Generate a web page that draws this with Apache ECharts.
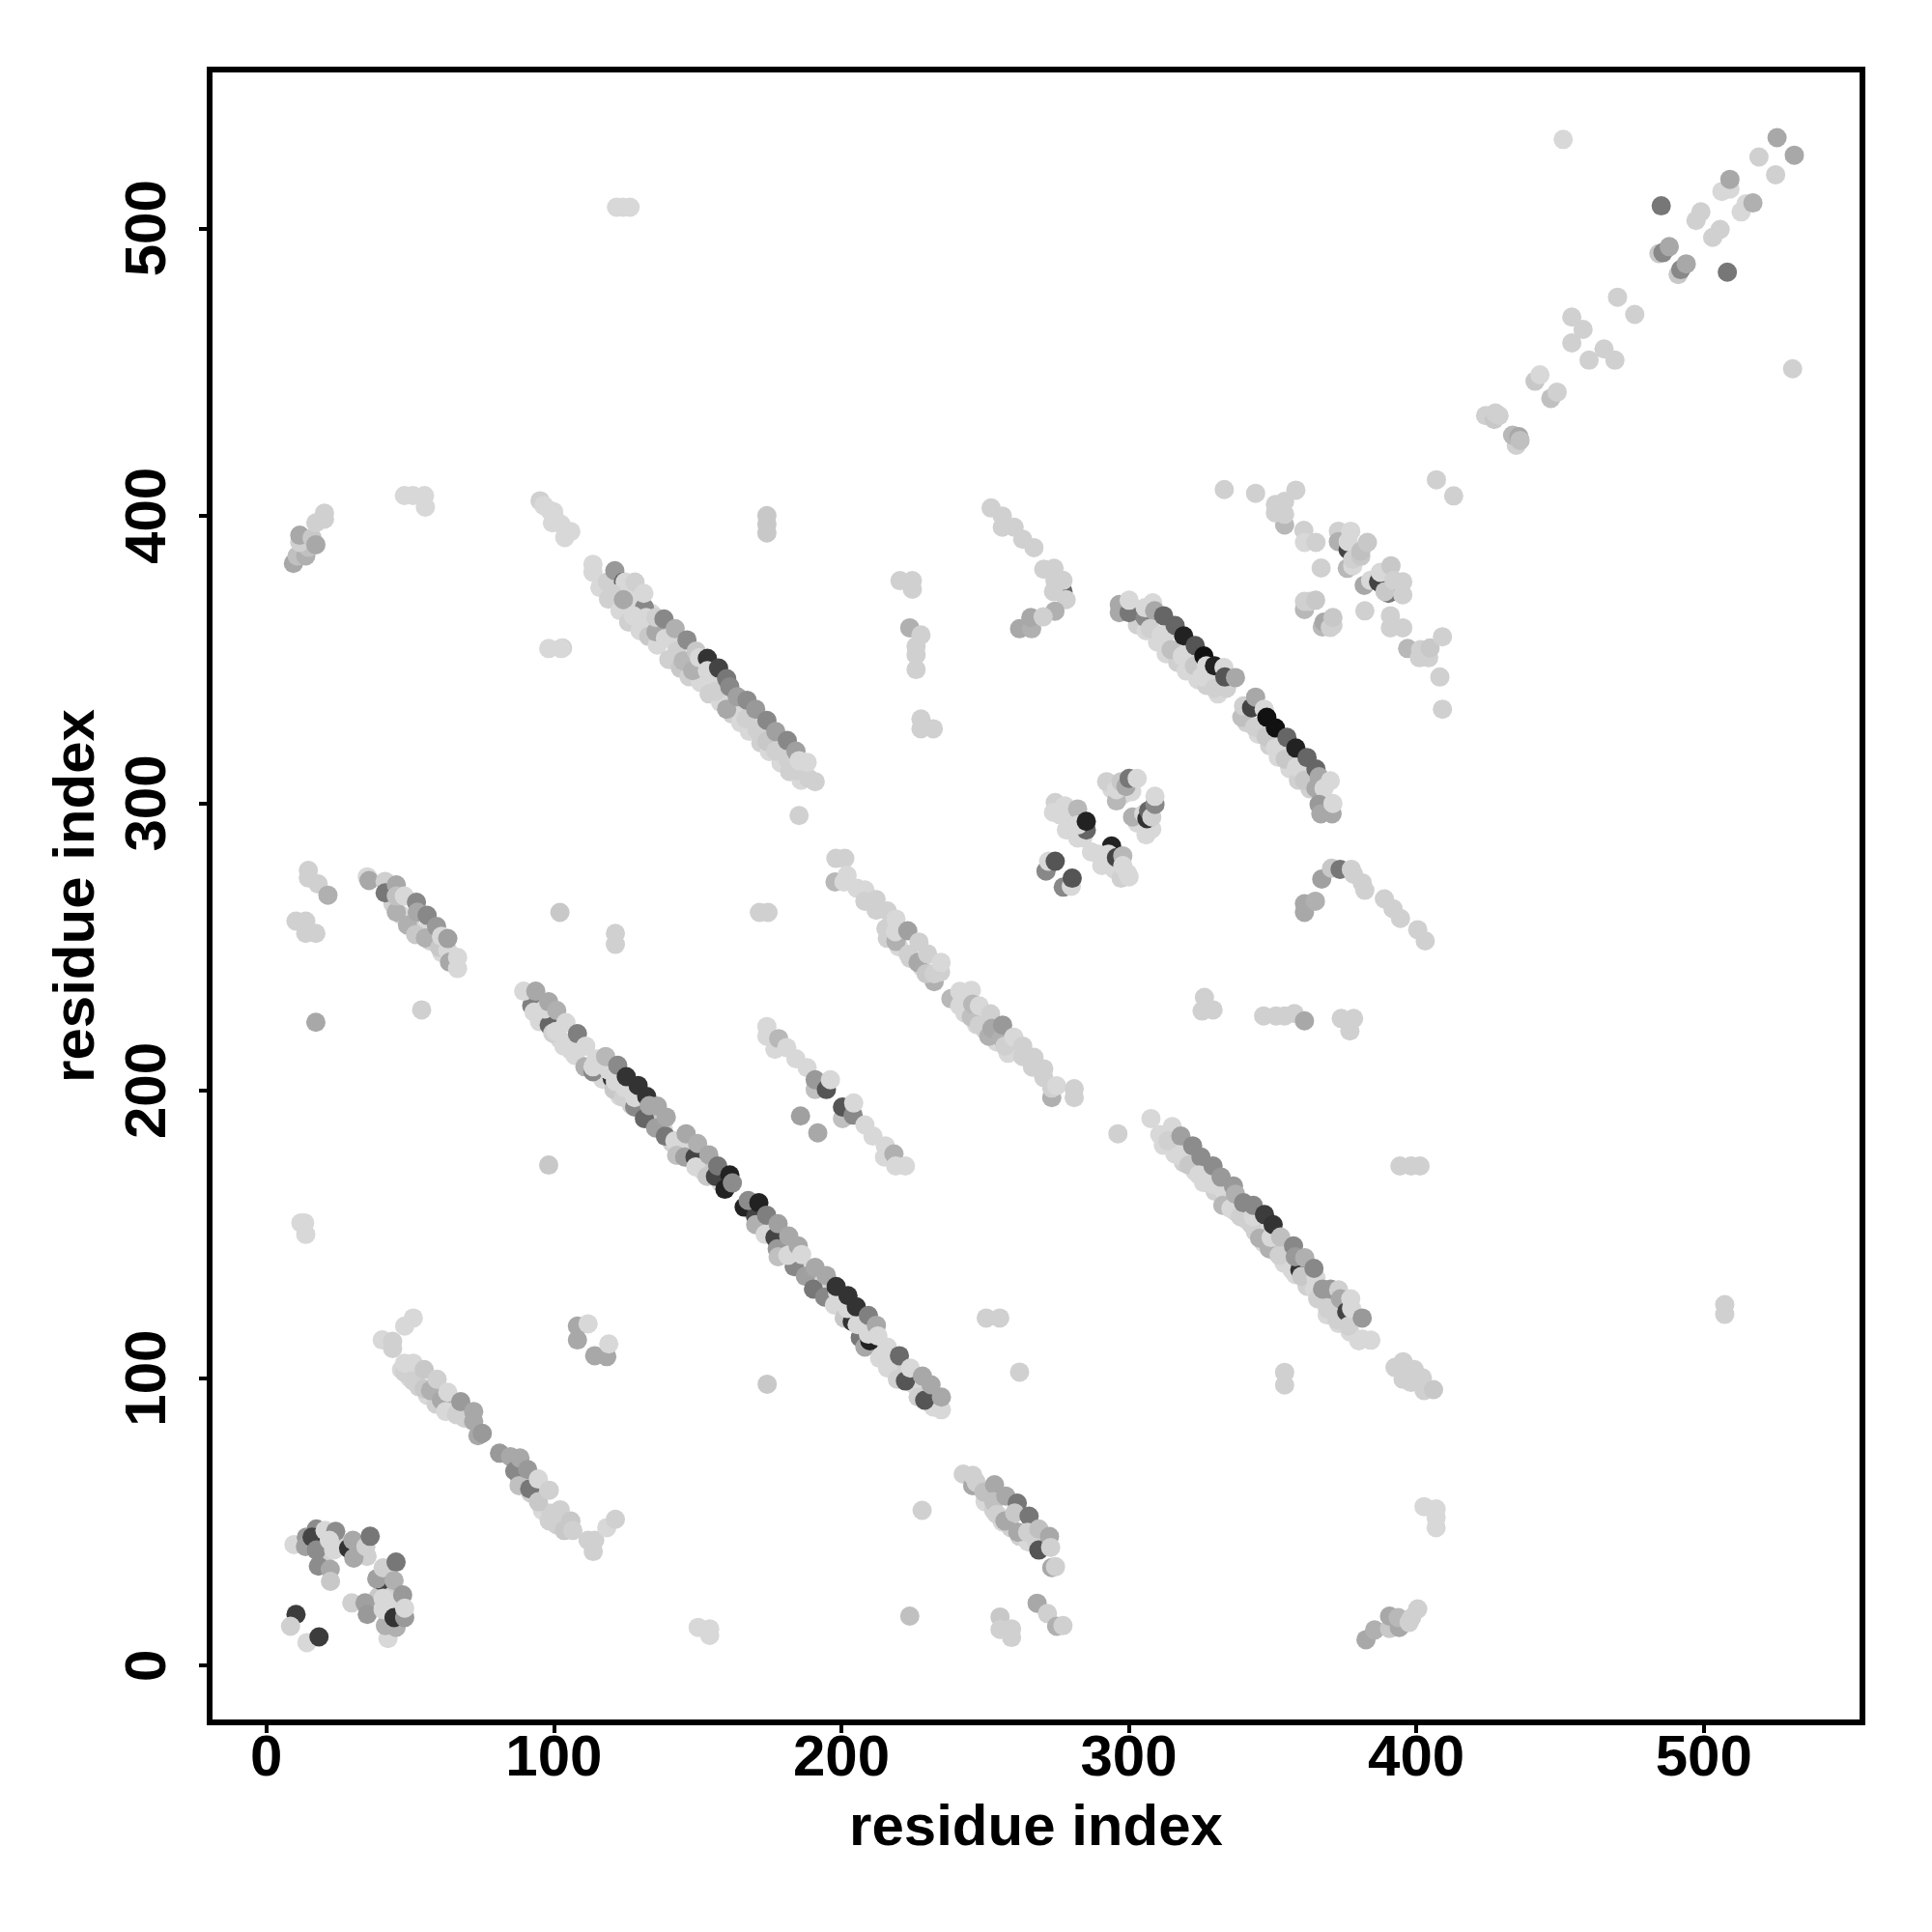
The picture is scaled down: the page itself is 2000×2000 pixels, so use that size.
<!DOCTYPE html>
<html>
<head>
<meta charset="utf-8">
<style>html,body{margin:0;padding:0;background:#fff}#c{width:2000px;height:2000px}</style>
<script src="https://cdn.jsdelivr.net/npm/echarts@6/dist/echarts.min.js"></script>
</head>
<body>
<div id="c"></div>
<script>
// Each row: residue x, residue y, shade level (0 black .. 255 white)
const xTitle = 'residue index';
const yTitle = 'residue index';
const tickValues = [0, 100, 200, 300, 400, 500];

const underLight = [
[95,224,216],[102,218,216],[106,214,216],[112,208,208],[117,204,216],[123,198,216],[127,195,208],[131,193,216],[134,190,200],[138,187,216],[141,182,208],[145,179,216],[148,176,208],[152,172,216],[155,172,200],[158,168,216],[169,158,216],[172,153,216],[175,150,208],[179,147,216],[180,143,216],[184,141,200],[187,138,216],[191,134,208],[195,130,216],[199,127,216],[203,121,216],[207,117,208],[211,112,216],[214,109,216],[218,104,216],[221,102,208],[225,98,216],[228,95,216],[231,93,208],[232,90,216],
[116,375,216],[119,371,208],[123,367,216],[126,363,208],[130,360,216],[133,358,200],[136,355,216],[140,350,208],[144,347,200],[147,344,208],[151,342,216],[154,338,208],[158,335,216],[162,331,208],[165,328,216],[168,325,216],[172,321,208],[175,318,216],[179,314,216],[182,311,208],[186,308,216],
[125,373,216],[129,370,216],[134,366,216],[140,361,216],[144,356,216],[148,350,216],[155,345,216],[160,338,216],[164,334,216],[168,331,216],[172,327,216],[176,322,216],[180,318,216],
[312,181,216],[316,178,216],[319,175,208],[323,172,216],[326,168,216],[330,165,208],[334,161,216],[337,158,208],[341,155,216],[344,151,208],[347,147,216],[351,144,216],[354,140,216],[358,136,216],[362,132,208],[366,129,216],[369,122,216],[373,119,216],[377,116,216],[380,113,216],
[320,178,216],[327,172,216],[333,166,216],[338,161,216],[346,153,216],[354,146,216],[362,137,216],[368,127,216],[376,121,216],
[303,362,208],[306,360,216],[310,356,216],[313,352,216],[317,349,208],[320,346,216],[324,343,216],[327,341,208],[331,338,216],[313,359,216],[318,354,216],[324,350,216],[329,344,216],
[341,328,208],[345,324,216],[349,320,208],[352,316,216],[356,312,216],[359,308,208],[363,305,208],[367,302,216],[350,323,216],[354,319,216],[358,316,216],[362,311,216],
[216,253,208],[220,250,216],[224,246,208],[228,243,216],[231,240,208],[243,227,216],[247,223,216],[250,221,208],[254,217,216],[258,213,216],
[44,265,208],[47,261,216],[50,258,208],[54,255,216],[57,252,208],[61,248,216],[64,247,216],
[47,103,216],[50,100,216],[53,97,208],[56,94,216],[59,91,208],[62,91,216],[65,89,216],[69,86,208],[88,65,208],[90,63,216],[92,60,208],[96,54,216],[99,53,208],[101,49,208],[103,50,208],
[250,57,216],[253,54,208],[256,50,216],[259,48,208],[262,45,208],[265,43,216],[268,43,208],
[276,296,216],[279,295,216],[281,290,216],[284,288,216],[287,283,216],[292,280,216],[295,277,216],[294,305,216],[298,303,216],[301,304,216],[303,293,216],[306,289,216],[308,291,216],
[19,44,216],[22,46,216],[25,42,208],[20,38,208],[33,40,216],[35,38,208],[31,39,200],[42,32,216],[44,26,216],[42,27,208],[43,22,216],[39,24,200],[45,14,176]
];
const cornerCluster = [
[10.3,17.8,60],[8.4,13.7,208],[14.1,8,216],[18.3,10,60],[9.6,42.1,216],[13.9,44.7,153],[13.6,41.4,160],[17.4,47.5,140],[15.9,44.7,68],[17.4,40.2,140],[20.4,47,216],[24.1,46.7,140],[21.9,43.6,216],[23.4,40.2,216],[18.1,34.6,140],[22.2,33.5,168],[22.3,29.3,200],[28.6,40.8,51],[30.4,37.4,168],[30.1,43.6,168],[34.6,41.4,208],[36.1,45,119],[39.9,29.6,68],[38.4,30.2,160],[40.6,34,208],[45.1,36,119],[44.4,29.6,176],[29.7,21.8,208],[34.3,21.8,160],[35.1,17.8,153],[47.4,24.6,153],[40.6,23.4,216],[42.3,9.4,216],[41.4,13.9,176],[45.1,13.3,176],[40.6,19.5,216],[44.4,16.7,51],[48.1,16.7,153],[48.1,20,216]
];
const bandA = [
[51.1,120.9,216],[48.1,118.1,216],[40.3,113.3,216],[43.9,110.3,208],[43.9,112.8,208],[48.1,101.9,208],[48.1,105.2,216],[51.1,105.2,216],[51.1,99,208],[54.9,96.3,200],[54.9,103,200],[57.1,95.7,176],[59.4,99.6,208],[60.9,92.3,168],[62.4,88.4,216],[63.1,95.1,216],[66.1,87.3,208],[67.6,91.8,154],[72.1,88.4,168],[72.1,85,168],[73.6,80,168],[75.1,80.8,153],
[81.1,73.9,153],[84.9,72.7,168],[86.4,67.7,136],[88.2,72.2,168],[87.9,62.6,192],[91.6,61.5,119],[90.9,68.2,153],[94.6,64.9,216],[94.6,57,200],[98.4,61,208],[98.4,50.3,208],[102.2,54.2,208],[103.6,47,200],[105.9,50.3,200],[106.6,47,208],[111.9,43.6,208],[114.2,43.6,208],[113.7,39.7,208],[118.4,48,216],[121.4,50.9,208]
];
const smallLow = [
[108.2,118.1,168],[111.9,118.9,216],[108.2,113.3,168],[114.2,107.8,168],[118.4,107.5,168],[119.1,111.9,216],[174.2,97.9,200],[150.2,13.3,216],[154.2,12.8,216],[154.2,10.5,216],[228.1,54,208],[223.8,17.2,192],[250.4,120.9,208],[255.1,120.9,208],[262,102.1,208],[507.3,125.6,208],[507.3,122.2,208],[402.7,55.3,216],[406.9,54.5,216],[406.9,51.5,216],[406.9,48,216]
];
const mainLower = [
[92.3,229.6,128],[93.1,227.3,216],[98.4,222.8,102],[99.6,220,208],[103.5,215.5,216],[107.4,212.2,216],[110.8,208.3,176],[113.6,206.6,136],[120.3,204.3,51],[120.9,200.4,200],[124.2,197.6,208],[128.1,194.3,136],[131.5,190.3,102],[135.4,187,160],[138.8,184.2,119],[142.1,182.5,216],[142.7,177.5,192],[145.5,176.9,160],[149.1,176.9,68],[149.4,173.5,216],[153.3,170.2,200],[156.2,170.2,68],[159.5,165.7,34],[166.2,159.5,34],[170.2,156.2,68],[170.2,153.4,176],[173.5,150,216],[176.9,148.9,68],[177.7,145,153],[178,142.2,192],[183.6,138.8,136],[181.4,142.7,216],[187.5,135.4,160],[190.3,131,119],[194.2,128.2,136],[197.6,125.4,216],[201,120.9,200],[203.8,119.7,51],[206.6,114.1,119],[208.2,110.8,168],[209.9,113,34],[213.3,106.9,216],[216.1,103.5,216],[219.5,99.6,208],[222.3,99,85],[226.7,93.4,208],[229,92.3,85]
];
const mainFill = [
[96.8,228.4,216],[100.7,220.6,216],[114.7,211,216],[113.6,208.3,216],[119.2,207,216],[121.4,203.2,216],[124.8,201,216],[128.1,197.6,216],[198.7,129.8,216],[202.1,124.2,216],[205.5,118.6,216],[209.4,115.3,216]
];
const mainUpper = [
[89.5,234.6,216],[93.7,234.6,168],[98.2,230.9,168],[101,227.9,176],[104.2,223.7,216],[108.2,219.8,127],[111.1,215.5,216],[118,211.9,184],[122.2,208.8,138],[125.2,204.9,51],[129.3,201.8,51],[132.3,198,51],[133.2,194.8,168],[136,194.6,168],[139.1,190.8,168],[146,185,168],[150,181.6,176],[153.9,177.7,168],[157,173.8,119],[161.2,170.7,34],[162.1,167.9,140],[167.6,161.8,140],[171.3,161,34],[174,156.7,127],[178,153.7,160],[181.7,149.4,168],[185,146,168],[186.2,143,216],[190.9,138.5,168],[194.8,135.7,168],[198.2,131.9,51],[202.3,128.7,51],[205.2,124.8,51],[209.4,121.8,128],[212.2,118.4,168],[212.7,114.7,216],[216,110.8,216],[220.2,107.8,106],[224,103.5,216],[228.2,100.7,168],[231.2,97.7,168],[234.8,89,216],[234.8,93.4,168]
];
const bandB = [
[307.7,190.3,216],[310.8,184.7,216],[315.1,187.5,216],[313.6,182.5,208],[318.1,184.2,160],[317.5,177.4,216],[322.2,180.8,140],[320.9,174.1,200],[325.1,176.9,140],[324.3,170.7,216],[329.3,167.4,216],[329.3,173.8,140],[332.7,165.7,216],[332.1,169.9,153],[332.7,160.1,184],[336.4,166.8,153],[335.5,159,216],[337.1,164,176],[338.8,156.2,208],[339.9,161,136],[342.7,153.4,208],[343.3,156.2,216],[343.3,160.1,136],[347.2,156.9,60],[345.5,148.7,176],[348.9,145,176],[349.5,148.9,216],[350.2,153.4,51],[352.3,142.7,208],[352.8,149.1,192],[356.7,137.7,216],[357.3,146,136],[359.5,137.7,51],[360.1,135.4,200],[357.9,142.2,153],[361.2,141.9,176],[365.1,134.9,216],[364.4,138.2,136],[364.6,131,216],[365.7,127.6,208],[367.4,131,153],[369.1,124.2,208],[370.2,131,153],[372.4,120.3,208],[373,130.7,208],[373.6,127.6,168],[375.8,123.1,68],[376.4,118.1,208],[377.5,124.2,216],[377.2,127.6,216],[381.2,120.9,153],[381.2,113.6,216],[384.2,113.2,216],
[296.2,185,208],[354.2,102,208],[354.2,97.6,208],[394.3,173.8,208],[398.2,173.8,208],[401.3,173.8,208],
[392.6,103.7,208],[395.4,105.7,208],[395.4,99.6,208],[399.3,103,208],[398.2,98.5,208],[402.1,100.1,208],[402.7,95.7,208],[406,96,200]
];
const shortBandLow = [
[242.4,66.6,208],[245.7,62.6,168],[245.7,66.2,208],[246.9,63.8,208],[249.6,60.4,192],[253.3,62.9,168],[253,57,192],[254.1,52.6,208],[257.2,59,168],[256.9,50.3,168],[261.2,56.5,119],[260.3,53.1,200],[261.4,46.4,168],[265.3,52,119],[264.8,46.4,208],[268.7,40.2,85],[268.7,47.5,192],[272.4,44.9,168],[272.8,41.1,208],[273.2,34.1,168],[274.5,34.4,208],
[268.1,21.7,168],[271.7,18.1,208],[274.9,13.7,176],[277.1,13.9,208],[255.2,16.9,200],[255.2,12.6,208],[259.2,12.8,208],[259.2,9.8,208],
[382.5,9,168],[385.5,12.4,176],[390.7,12.9,200],[390.7,17.2,168],[394.1,13.3,168],[393.7,16.7,184],[397.5,15,208],[398.4,16.7,208],[400.5,19.7,208]
];
const crossMid = [
[198.1,280.8,208],[201.2,280.8,208],[197.8,272.6,184],[202,274.9,216],[200.9,272.6,216],[205.4,270.4,216],[208.2,269.8,216],[208.2,265.9,208],[212.1,266.5,208],[212.1,262.8,208],[216,262.5,208],[215.5,256.4,208],[219,259.7,216],[219,251.9,176],[218.8,255.3,216],[223.1,255.6,160],[223.3,247.4,208],[227,251.7,208],[226.7,244.6,168],[230,247.6,208],[232.3,237.9,176],[229.5,240.7,200],[232.3,240.7,208],[234.5,241.3,208],[234.7,244.6,216],
[238.1,232,184],[241.2,234.5,216],[245.2,234.9,216],[241.2,229.5,216],[245.2,225.6,192],[245.7,230.1,184],[248,229.5,216],[248,222.8,208],[251.9,226.7,208],[251.3,218.9,176],[252.4,221.7,168],[255.8,218.3,176],[256.9,215.5,208],[256.1,222.8,153],[260,218.6,216],[263.1,215.5,208],[263.1,211.9,208],[267,211.6,208],[266.5,208.2,208],[270.4,207.6,208],[270.4,204.6,208],[273.2,197.6,176],[273.2,200.9,208],[274.9,201.7,216],[281,200.7,208],[281,197.6,208]
];
const branchMid = [
[174.1,222.3,216],[174.1,218.9,216],[176.9,214.4,216],[178.2,218.1,184],[181,215,216],[184.2,211.1,216],[188.1,208,216],[190.9,200.4,192],[190.9,203.8,153],[194.8,200.4,85],[196.2,203.8,216],[185.8,191.2,160],[191.8,185.3,168],[200.4,190.3,192],[200.4,194.3,85],[204.1,191.5,136],[204.3,195.7,216],[208.2,188.1,216],[211,184.2,216],[215,176.9,216],[215.3,180.8,216],[218.3,178,176],[218.9,173.8,216],[222.3,173.8,216]
];
const bandC = [
[35.1,274.4,216],[35.7,273.1,168],[41.3,272.8,208],[41.3,268.8,119],[45.2,271.6,168],[45.2,262.1,176],[45.2,267.7,192],[48,267.7,216],[49.1,257.6,176],[51.9,254.3,200],[52.2,265.5,136],[52.5,262.1,168],[55.3,253.1,176],[55.9,261,136],[60.3,249.8,200],[59.2,257.1,153],[60.9,253.7,216],[63.1,248.7,216],[63.7,244.7,168],[63.1,252.9,160],[66.5,246.4,216],[66.5,242.5,216],
[14.6,276.6,208],[14.6,274,208],[18,271.9,208],[21.4,268,176],[10.3,259,208],[13.7,259,208],[13.7,254.7,208],[17.2,254.7,208],
[12,154,216],[13.3,154,216],[13.7,150,216],[17.2,223.8,168],[54,228.1,208],[98.2,174.1,200],[102.1,262,200],[121.4,254.7,208],[121.4,250.9,208],[171.5,262,208],[174.5,262,208]
];
const fourCluster = [
[271.2,276.4,136],[272.1,279.8,216],[274.4,279.8,85],[277.2,270.8,136],[280,271.1,216],[280.3,273.9,85],
[274.4,300.2,208],[277.7,299.1,216],[273.8,296.8,216],[282.2,298,184],[278.3,290.7,216],[282.2,287.9,216],[285.2,290.7,102],[282.2,292.4,216],[285.2,293.7,34],
[294,285.1,34],[289.5,282.3,216],[290.6,278.3,216],[292.9,282.3,216],[295.7,281.1,68],[297.9,281.7,184],[297.3,273.9,208],[297.9,278.3,216],[299.6,275.5,216],[300.1,274.4,216],
[292.3,307.5,208],[295.7,300.8,184],[295.7,304.7,216],[297.3,307.5,200],[299,305.8,168],[300.1,308.6,119],[302.9,308.6,216],
[301.3,295.2,176],[306.9,291.8,216],[305.2,296.3,216],[306.3,294.6,51],[306.9,297.4,102],[308,295.2,208],[309.1,299.6,136],[309.1,302.4,216]
];
const bandD = [
[339.3,329.9,192],[339.9,333.8,208],[342.7,333.2,68],[344.1,336.9,168],[343.8,326.5,208],[347.1,332.7,216],[348,329.9,17],[347.7,323.2,200],[351,326.2,17],[351,319.2,216],[355,322.9,102],[354.4,315.3,200],[358.3,312.5,216],[358.1,319.2,34],[361.1,308,200],[362,315.9,102],[365.1,311.9,102],[365.1,305.2,168],[366.2,309.2,168],[367.9,305.2,216],[370.1,307.8,216],[366.2,299.6,153],[366.8,296.3,168],[370.7,296.3,168],[371,299.9,216]
];
const bandE = [
[296.7,369.1,168],[296.7,366.3,168],[300.1,366.3,119],[300.1,370.6,216],[305.7,364.6,136],[305.7,368,216],[308.3,369.7,216],[309,366.9,168],[307.4,360.7,208],[312.1,365.2,102],[311.3,358.5,216],[316.1,361.8,102],[314.7,353.4,192],[319.1,358.2,34],[318.6,351.2,216],[323.1,354.8,85],[322.8,347.8,200],[326.1,351.2,17],[325.3,343.9,216],[327,347.8,216],[329.8,340,208],[329.8,347.8,34],[334,340,208],[333.1,347.2,216],[333.4,343.9,85],[337.1,343.7,168]
];
const bandF = [
[113.6,383.1,216],[113.6,380.3,216],[118.6,376.9,208],[121.2,380.9,153],[124.2,376.9,102],[124.8,376.9,216],[120.3,373,208],[124.2,370.8,168],[128.2,376.9,208],[131.5,368,136],[127.6,365.2,216],[131.3,373,216],[132.1,364.6,216],[135.5,359.6,168],[135.5,364.6,208],[138.3,364.1,136],[138.8,357.3,216],[142.2,360.7,176],[142.7,352.9,208],[145,349.5,184],[146.3,356.8,140],[148.3,346.1,176],[149.5,352.9,200],[150.6,350.6,216],[153.4,350.4,51],[153.4,346.1,216],[156.2,338.9,208],[157.3,347,68],[160.1,343.3,119],[160.1,332.7,168],[161.2,340.5,136],[163.8,337,160],[166.8,329.3,208],[167.2,335.8,140],[170.7,325.4,208],[170.2,332.7,153],[174.1,321.5,200],[174.1,328.8,136],[177.2,318.1,208],[177.2,324.9,160],[181.4,315.3,208],[181.2,321.8,136],[184.2,318.1,160],[184.2,311.4,208],[185.3,314.8,216],[188.7,308.6,208],[188.1,314.2,216],[190.9,307.5,208],[185.3,295.7,208],
[103,354,208],[98.2,353.8,216],[102.5,353.8,216]
];
const upperLeft = [
[9.4,383.4,168],[10.7,386,192],[13.7,386,176],[14.6,389,192],[11.6,390.7,208],[11.6,393.2,168],[15.9,392.3,200],[17.2,389.9,168],[17.2,397.5,208],[20.2,398.8,208],[20.2,400.9,208],
[48,407,216],[51,407,216],[55,407,216],[55.3,403,216],[121.8,507.3,216],[124,507.3,216],[126.5,507.3,216],
[174.1,400,200],[174.1,397,200],[174.1,394,200],
[95.2,405.2,208],[96.5,403.5,216],[99.9,401.4,216],[98.6,401.8,216],[100.3,399.2,216],[99.5,397.5,216],[102.5,397,216],[103.8,392.4,216],[105.9,394.5,216]
];
const midColumn = [
[220.4,377.4,208],[224.7,377.4,208],[224.7,374.4,208],[223.8,361,176],[227.7,358.5,208],[226,354.6,208],[226,351.6,208],[226,346.5,208],[227.7,329.3,208],[227.7,325.9,208],[232,325.9,208],
[252.1,402.7,208],[256,399.9,208],[256,396,208],[260.1,396,208],[263.1,391.8,208],[267,388.9,208],[270.4,381.4,208],[274,381.7,208],[274.3,377.5,208],[277.1,373.6,102],[277.1,377.5,208],[273.8,373.6,208],[278.2,370.8,208],[274.3,366.8,176],[262,360.7,168],[266.2,360.7,176],[265.9,364.6,168],[270.2,364.8,208]
];
const rightBend = [
[361.1,262,168],[361.1,265,168],[364.9,265.9,176],[367.1,273.6,160],[370.5,277.4,200],[373.5,277,119],[377.4,277,208],[378.2,275.3,208],[381.2,272.3,208],[382.1,269.7,208],[388.9,266.7,208],[391.9,263.3,208],[394.5,259.9,208],[400.5,256,208],[403.1,252.1,208],
[326.3,232.4,208],[325.5,227.7,208],[329.3,228.1,208],[346.9,226,208],[351.2,226,208],[354.2,226,208],[357.6,226.8,208],[361.1,224.3,168],[373.9,225.1,208],[378.2,225.1,208],[376.9,220.8,208]
];
const rightCluster = [
[333.2,409.1,208],[344.1,407.8,208],[358.1,408.9,208],[354.2,396.8,184],[351,403.9,208],[354.2,405,208],[351,401,208],[354.2,400.5,208],[360.9,394.9,208],[361.1,390.7,216],[365.1,390.7,208],[366.9,381.8,208],
[372.9,394.6,208],[372.9,391,176],[376,381.7,184],[376.3,388.2,68],[377.9,382.6,216],[377.9,384.8,208],[376.3,391,216],[377.2,394.6,216],[380.7,385.9,200],[380.7,387.6,192],[383,390.7,200],
[381.9,375.8,168],[384.1,377.5,216],[386.9,377,68],[387.5,380.3,216],[391.2,382.6,200],[390.3,373,119],[389.1,373.6,200],[392.2,377.5,208],[395.3,372.5,208],[395.3,377,208],
[361.1,367.4,184],[361.1,370.2,208],[362.8,370.2,208],[365,370.6,200],[367.3,361.3,184],[367.9,363,168],[370.1,361.1,208],[371,361.8,208],[371,364.6,200],
[382.1,366.9,208],[391,365.2,208],[391,361,208],[395.3,361,208],[397,353.8,184],[401.5,353.4,208],[401.1,350.6,208],[404.3,350.6,208],[404.8,354,200],[409.1,357.9,208],[408.2,343.9,208],[409.1,332.7,208],[407,412.5,208],[413,406.9,208]
];
const topDiagonal = [
[424.1,434.8,208],[427.1,433.5,200],[427.5,435.7,208],[428.8,434.8,208],[434.8,424.5,208],[433.5,428,184],[435.7,427.5,168],[436.1,426.2,192],
[441.3,446.8,200],[443,449,216],[446.8,440.8,192],[449,443,208],
[454.1,469.1,208],[454.1,460.1,208],[458,464.8,208],[460.1,454.1,208],[465.3,458,208],[469.1,454.1,208],[470,476,208],[476,470,208],[530.9,451.1,208],[451.1,530.9,216],
[484.4,491.2,200],[485.8,491.5,136],[488,493.6,168],[491.1,483.9,200],[492,485.6,136],[493.9,487.6,168],[485.2,507.8,119],[508.2,484.7,119],
[497.3,502.7,208],[499,505.7,208],[503.1,496.8,208],[505.7,499.6,208],[506.3,512.8,216],[509.1,513.6,216],[509.1,517,168],[513,505.7,216],[514.7,508.5,216],[517.1,508.8,176],
[519.2,524.8,208],[525,518.6,208],[525.5,531.5,168],[531.5,525.4,168]
];

const allPoints = [].concat(
  underLight, cornerCluster, bandA, smallLow, mainLower, mainFill, mainUpper, bandB,
  shortBandLow, crossMid, branchMid, bandC, fourCluster, bandD, bandE,
  bandF, upperLeft, midColumn, rightBend, rightCluster, topDiagonal
);

const font = '"Liberation Sans", Arial, sans-serif';
const chart = echarts.init(document.getElementById('c'), null, {renderer: 'canvas'});
const axisCommon = {
  type: 'value',
  min: -19.75,
  max: 555.2,
  splitLine: {show: false},
  axisLine: {show: false, onZero: false},
  axisTick: {show: true, length: 11, lineStyle: {color: '#000', width: 4}, customValues: tickValues},
  nameLocation: 'middle',
  nameMoveOverlap: false,
  nameTextStyle: {color: '#000', fontFamily: font, fontWeight: 'bold', fontSize: 60}
};
chart.setOption({
  animation: false,
  backgroundColor: '#fff',
  grid: {left: 217, top: 72, width: 1711, height: 1711, show: true, borderColor: '#000', borderWidth: 6, backgroundColor: 'transparent'},
  xAxis: Object.assign({}, axisCommon, {
    name: xTitle, nameGap: 80,
    axisLabel: {color: '#000', fontFamily: font, fontWeight: 'bold', fontSize: 60, margin: 8, customValues: tickValues, hideOverlap: false}
  }),
  yAxis: Object.assign({}, axisCommon, {
    name: yTitle, nameGap: 107,
    axisLabel: {color: '#000', fontFamily: font, fontWeight: 'bold', fontSize: 60, margin: 33, rotate: 90, customValues: tickValues, hideOverlap: false}
  }),
  series: [{
    type: 'scatter',
    data: allPoints,
    symbol: 'circle',
    symbolSize: 20,
    large: false,
    progressive: 0,
    encode: {x: 0, y: 1},
    itemStyle: {opacity: 1, color: p => { const g = p.value[2]; return 'rgb(' + g + ',' + g + ',' + g + ')'; }}
  }]
});
</script>
</body>
</html>
